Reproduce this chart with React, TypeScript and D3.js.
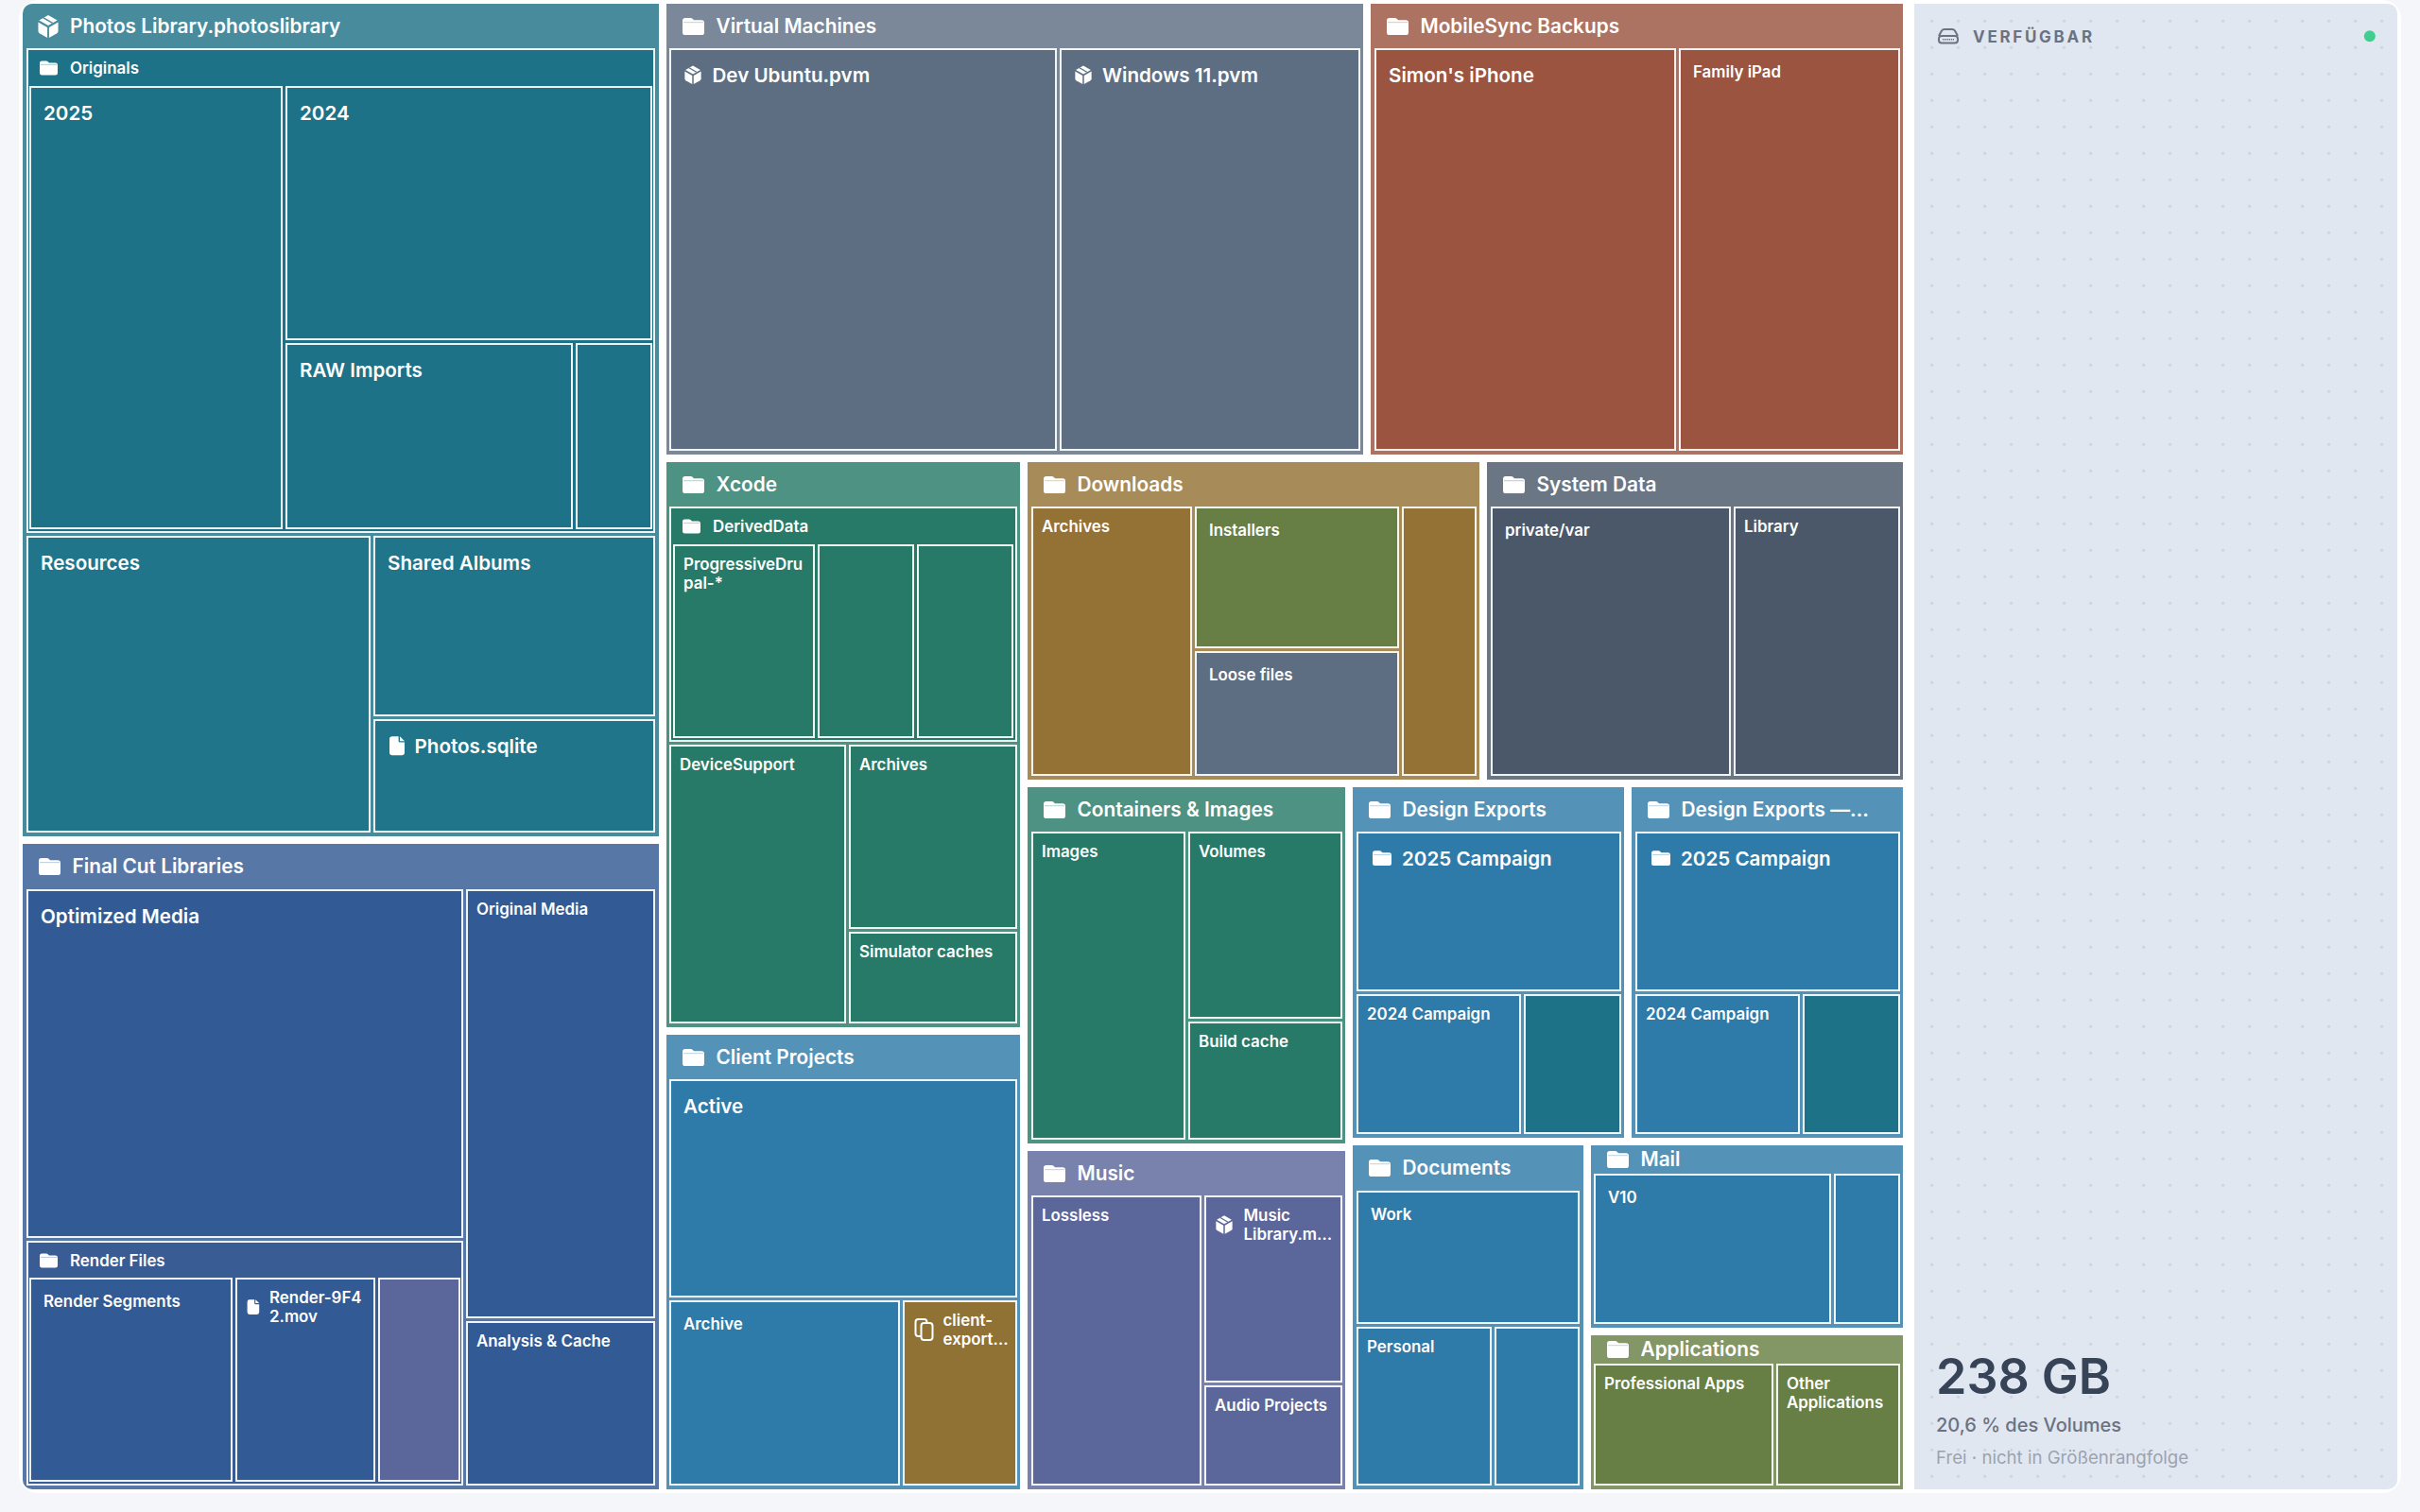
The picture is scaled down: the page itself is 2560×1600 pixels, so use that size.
import React from "react";
import * as d3 from "d3";

// ---------- data (GB) ----------
const originalsNames = ["2025", "2024", "RAW Imports", ""];
const originalsValues = [44.68, 37.08, 21.47, 5.84];
const photosNames = ["Resources", "Shared Albums", "Photos.sqlite"];
const photosValues = [36.74, 18.43, 11.66];
const finalCutNames = ["Optimized Media", "Original Media", "Analysis & Cache"];
const finalCutValues = [55.82, 29.98, 11.57];
const renderNames = ["Render Segments", "Render-9F42.mov", ""];
const renderValues = [18.7, 13.05, 7.68];
const vmNames = ["Dev Ubuntu.pvm", "Windows 11.pvm"];
const vmValues = [59.09, 45.91];
const mobileNames = ["Simon's iPhone", "Family iPad"];
const mobileValues = [46.43, 33.97];
const derivedNames = ["ProgressiveDrupal-*", "", " "];
const derivedValues = [12.96, 8.88, 8.94];
const xcodeNames = ["DeviceSupport", "Archives", "Simulator caches"];
const xcodeValues = [18.73, 11.82, 5.97];
const clientNames = ["Active", "Archive", "client-export…"];
const clientValues = [29.31, 16.62, 8.37];
const downloadsNames = ["Archives", "Installers", "Loose files", ""];
const downloadsValues = [17.82, 11.92, 10.5, 8.36];
const systemNames = ["private/var", "Library"];
const systemValues = [26.48, 18.32];
const containersNames = ["Images", "Volumes", "Build cache"];
const containersValues = [19.27, 11.75, 7.48];
const musicNames = ["Lossless", "Music Library.m…", "Audio Projects"];
const musicValues = [20.21, 10.62, 5.77];
const designNames = ["2025 Campaign", "2024 Campaign", ""];
const designValues = [17.3, 9.54, 5.71];
const design2Values = [17.3, 9.54, 5.71];
const documentsNames = ["Work", "Personal", ""];
const documentsValues = [12.44, 9.04, 5.72];
const mailNames = ["V10", ""];
const mailValues = [15.32, 4.38];
const appsNames = ["Professional Apps", "Other Applications"];
const appsValues = [9.9, 6.9];

const freeLabel = "238 GB";
const freeShare = "20,6 % des Volumes";
const freeNote = "Frei · nicht in Größenrangfolge";
const freeTitle = "VERFÜGBAR";

// ---------- tree ----------
type N = any;
const leaves = (group: string, names: string[], values: number[]): N[] =>
  names.map((name, i) => ({ name, value: values[i], group }));
const split = (dir: string, ...children: N[]): N => ({ dir, children });
const folder = (name: string, dir: string, ...children: N[]): N => ({ name, dir, children, isFolder: true });

const O = leaves("Originals", originalsNames, originalsValues);
const P = leaves("Photos Library.photoslibrary", photosNames, photosValues);
const F = leaves("Final Cut Libraries", finalCutNames, finalCutValues);
const R = leaves("Render Files", renderNames, renderValues);
const DD = leaves("DerivedData", derivedNames, derivedValues);
const X = leaves("Xcode", xcodeNames, xcodeValues);
const C = leaves("Client Projects", clientNames, clientValues);
const D = leaves("Downloads", downloadsNames, downloadsValues);
const CI = leaves("Containers & Images", containersNames, containersValues);
const M = leaves("Music", musicNames, musicValues);
const DE = leaves("Design Exports", designNames, designValues);
const DE2 = leaves("Design Exports —…", designNames, design2Values);
const DOC = leaves("Documents", documentsNames, documentsValues);

const photos = folder("Photos Library.photoslibrary", "slice",
  folder("Originals", "dice", O[0], split("slice", O[1], split("dice", O[2], O[3]))),
  split("dice", P[0], split("slice", P[1], P[2])));
const finalCut = folder("Final Cut Libraries", "dice",
  split("slice", F[0], folder("Render Files", "dice", ...R)),
  split("slice", F[1], F[2]));
const xcode = folder("Xcode", "slice",
  folder("DerivedData", "dice", ...DD),
  split("dice", X[0], split("slice", X[1], X[2])));
const client = folder("Client Projects", "slice", C[0], split("dice", C[1], C[2]));
const downloads = folder("Downloads", "dice", D[0], split("dice", split("slice", D[1], D[2]), D[3]));
const containers = folder("Containers & Images", "dice", CI[0], split("slice", CI[1], CI[2]));
const music = folder("Music", "dice", M[0], split("slice", M[1], M[2]));
const design = folder("Design Exports", "slice", DE[0], split("dice", DE[1], DE[2]));
const design2 = folder("Design Exports —…", "slice", DE2[0], split("dice", DE2[1], DE2[2]));
const documents = folder("Documents", "slice", DOC[0], split("dice", DOC[1], DOC[2]));

const tree = split("dice",
  split("slice", photos, finalCut),
  split("slice",
    split("dice",
      folder("Virtual Machines", "dice", ...leaves("Virtual Machines", vmNames, vmValues)),
      folder("MobileSync Backups", "dice", ...leaves("MobileSync Backups", mobileNames, mobileValues))),
    split("dice",
      split("slice", xcode, client),
      split("slice",
        split("dice", downloads, folder("System Data", "dice", ...leaves("System Data", systemNames, systemValues))),
        split("dice",
          split("slice", containers, music),
          split("slice",
            split("dice", design, design2),
            split("dice", documents,
              split("slice",
                folder("Mail", "dice", ...leaves("Mail", mailNames, mailValues)),
                folder("Applications", "dice", ...leaves("Applications", appsNames, appsValues))))))))));

// ---------- styles ----------
const TEAL = "#1e7288", NAVY = "#325a94", SLATE = "#5d6e82", RUST = "#9a5440", GREEN = "#277a68",
  GOLD = "#947134", DARK = "#4b5869", BLUE = "#2e7aa9", PURPLE = "#5b669b", OLIVE = "#677f45";
const baseFill: Record<string, string> = {
  "Photos Library.photoslibrary": TEAL, "Final Cut Libraries": NAVY, "Virtual Machines": SLATE,
  "MobileSync Backups": RUST, Xcode: GREEN, Downloads: GOLD, "System Data": DARK,
  "Containers & Images": GREEN, "Design Exports": BLUE, "Design Exports —…": BLUE,
  "Client Projects": BLUE, Music: PURPLE, Documents: BLUE, Mail: BLUE, Applications: OLIVE,
};
const fillOverride: Record<string, string> = {
  "Downloads/Installers": OLIVE, "Downloads/Loose files": SLATE, "Render Files/": PURPLE,
  "Design Exports/": TEAL, "Design Exports —…/": TEAL, "Client Projects/client-export…": "#907235",
  "Photos Library.photoslibrary/Resources": "#20758a", "Photos Library.photoslibrary/Shared Albums": "#20758a",
  "Photos Library.photoslibrary/Photos.sqlite": "#20758a",
};
const labelClass: Record<string, string> = {
  "Originals/2025": "lg", "Originals/2024": "lg", "Originals/RAW Imports": "lg",
  "Photos Library.photoslibrary/Resources": "lg", "Photos Library.photoslibrary/Shared Albums": "lg",
  "Photos Library.photoslibrary/Photos.sqlite": "lg", "Final Cut Libraries/Optimized Media": "lg",
  "Render Files/Render Segments": "sm", "Virtual Machines/Dev Ubuntu.pvm": "lg", "Virtual Machines/Windows 11.pvm": "lg",
  "MobileSync Backups/Simon's iPhone": "lg", "MobileSync Backups/Family iPad": "sm",
  "Downloads/Installers": "sm", "Downloads/Loose files": "sm", "System Data/private/var": "sm",
  "Client Projects/Active": "lg", "Client Projects/Archive": "sm", "Design Exports/2025 Campaign": "lg",
  "Design Exports —…/2025 Campaign": "lg", "Documents/Work": "sm", "Mail/V10": "sm",
};
const classes: Record<string, { fs: number; dx: number; cy: number }> = {
  lg: { fs: 20.6, dx: 15, cy: 28.2 },
  sm: { fs: 16.9, dx: 15, cy: 25 },
  xs: { fs: 16.9, dx: 11, cy: 21 },
};
const leafIcons: Record<string, { icon: string; ix: number; w: number; tx: number }> = {
  "Photos Library.photoslibrary/Photos.sqlite": { icon: "file", ix: 17, w: 16, tx: 43.5 },
  "Render Files/Render-9F42.mov": { icon: "file", ix: 12.6, w: 12.6, tx: 36 },
  "Virtual Machines/Dev Ubuntu.pvm": { icon: "cube", ix: 16, w: 18, tx: 45.5 },
  "Virtual Machines/Windows 11.pvm": { icon: "cube", ix: 16, w: 18, tx: 45 },
  "Music/Music Library.m…": { icon: "cube", ix: 12, w: 18, tx: 41.5 },
  "Client Projects/client-export…": { icon: "copy", ix: 12.5, w: 20, tx: 42.5 },
  "Design Exports/2025 Campaign": { icon: "folder", ix: 17, w: 20, tx: 48 },
  "Design Exports —…/2025 Campaign": { icon: "folder", ix: 17, w: 20, tx: 48 },
};
const wrapped: Record<string, string[]> = {
  "ProgressiveDrupal-*": ["ProgressiveDru", "pal-*"],
  "Render-9F42.mov": ["Render-9F4", "2.mov"],
  "Music Library.m…": ["Music", "Library.m…"],
  "client-export…": ["client-", "export…"],
  "Other Applications": ["Other", "Applications"],
};
const compactHeaders = ["Mail", "Applications"];
const FONT = "Inter, 'Noto Sans', sans-serif";
const LEFT = 24, TOP = 4, WIDTH = 1989, HEIGHT = 1572;

const mix = (c: string) => d3.interpolateRgb(c, "#ffffff")(0.18);

function Icon({ kind, x, cy, w, bg }: { kind: string; x: number; cy: number; w: number; bg: string }) {
  const dims: Record<string, [number, number]> = { folder: [24, 19], cube: [24, 26], file: [16, 20], copy: [20, 24] };
  const [vw, vh] = dims[kind];
  const s = w / vw;
  const t = `translate(${x},${cy - (vh * s) / 2}) scale(${s})`;
  if (kind === "folder")
    return (
      <g transform={t}>
        <path fill="#fff" d="M3 0H9Q10 0 10.7.7L12.5 2.5H21Q24 2.5 24 5.5V16Q24 19 21 19H3Q0 19 0 16V3Q0 0 3 0Z" />
        <path d="M1 5H23" stroke={bg} strokeWidth={0.7} opacity={0.6} />
      </g>
    );
  if (kind === "cube")
    return (
      <g transform={t} fill="#fff">
        <path d="M12 0L22.5 6L12 12L1.5 6Z" />
        <path d="M6.5 3L17 9" stroke={bg} strokeWidth={1.6} />
        <path d="M.5 8L11 14V26L2 21Q.5 20 .5 18.5Z" />
        <path d="M23.5 8L13 14V26L22 21Q23.5 20 23.5 18.5Z" />
      </g>
    );
  if (kind === "file")
    return (
      <g transform={t} fill="#fff">
        <path d="M3 0H9.6V5Q9.6 6.4 11 6.4H16V17Q16 20 13 20H3Q0 20 0 17V3Q0 0 3 0Z" />
        <path d="M11 0L16 5H11Z" />
      </g>
    );
  return (
    <g transform={t} fill="none" stroke="#fff" strokeWidth={2}>
      <rect x={1} y={1} width={12} height={18} rx={3} />
      <rect x={7} y={5} width={12} height={18} rx={3} fill={bg} />
    </g>
  );
}

export default function App() {
  const root = d3.hierarchy(tree).sum((d: N) => (d.children ? 0 : d.value));
  const inFolder = (n: N) => n.ancestors().some((a: N) => a.data.isFolder);
  d3.treemap()
    .size([WIDTH, HEIGHT])
    .tile((node: N, x0: number, y0: number, x1: number, y1: number) =>
      (node.data.dir === "slice" ? d3.treemapSlice : d3.treemapDice)(node, x0, y0, x1, y1))
    .paddingInner((n: N) => (inFolder(n) ? 3 : 8))
    .paddingTop((n: N) => {
      if (!n.data.isFolder) return 0;
      if (compactHeaders.includes(n.data.name)) return 29.5;
      if (n.ancestors().slice(1).some((a: N) => a.data.isFolder)) return 39.8;
      return n.data.name === "Final Cut Libraries" ? 48.2 : 47.3;
    })
    .paddingLeft((n: N) => (n.data.isFolder ? 3.5 : 0))
    .paddingRight((n: N) => (n.data.isFolder ? 3.5 : 0))
    .paddingBottom((n: N) => (n.data.isFolder ? 4 : 0))(root as any);

  const topName = (n: N) => {
    const fs = n.ancestors().filter((a: N) => a.data.isFolder);
    return fs.length ? fs[fs.length - 1].data.name : "";
  };
  const nodes = root.descendants().filter((n: N) => n.data.isFolder || !n.children);

  return (
    <svg width={2560} height={1600} style={{ position: "fixed", left: 0, top: 0 }} fontFamily={FONT}>
      <defs>
        <clipPath id="frame"><rect x={24} y={4} width={2512} height={1572} rx={10} /></clipPath>
        <pattern id="dots" x={2043.6 - 14} y={22.3 - 14} width={28} height={28} patternUnits="userSpaceOnUse">
          <circle cx={14} cy={14} r={1.5} fill="#64748b" opacity={0.2} />
        </pattern>
      </defs>
      <rect width={2560} height={1600} fill="#f4f6fa" />
      <rect x={20} y={0} width={2520} height={1580} rx={20} fill="#fff" />
      <g clipPath="url(#frame)">
        <g transform={`translate(${LEFT},${TOP})`}>
          {nodes.map((n: N, i: number) => {
            const x0 = Math.round(n.x0), y0 = Math.round(n.y0), x1 = Math.round(n.x1), y1 = Math.round(n.y1);
            const base = baseFill[topName(n)];
            const isTop = n.data.isFolder && !n.ancestors().slice(1).some((a: N) => a.data.isFolder);
            if (isTop) return <rect key={i} x={x0} y={y0} width={x1 - x0} height={y1 - y0} fill={mix(base)} />;
            const key = `${n.data.group}/${n.data.name}`;
            return (
              <rect key={i} x={x0 + 1} y={y0 + 1} width={x1 - x0 - 2} height={y1 - y0 - 2}
                fill={fillOverride[key] || (n.data.name === "Render Files" ? "#3a5c94" : base)}
                stroke="#fff" strokeOpacity={0.92} strokeWidth={2} />
            );
          })}
          {nodes.map((n: N, i: number) => {
            const x0 = Math.round(n.x0), y0 = Math.round(n.y0);
            const base = baseFill[topName(n)];
            if (n.data.isFolder) {
              const nested = n.ancestors().slice(1).some((a: N) => a.data.isFolder);
              const compact = compactHeaders.includes(n.data.name);
              const cy = nested ? 21 : compact ? 15 : 24;
              const fs = nested ? 16.9 : 20.8;
              const cube = n.data.name === "Photos Library.photoslibrary";
              return (
                <g key={i}>
                  <Icon kind={cube ? "cube" : "folder"} x={x0 + (nested ? 14 : cube ? 16 : 17)} cy={y0 + cy}
                    w={nested ? 19 : cube ? 22 : 23} bg={nested ? base : mix(base)} />
                  <text x={x0 + (nested ? 46 : cube ? 50 : 52.5)} y={y0 + cy + fs * 0.36} fontSize={fs} fontWeight={600} fill="#fff">
                    {n.data.name}
                  </text>
                </g>
              );
            }
            if (!n.data.name.trim()) return null;
            const key = `${n.data.group}/${n.data.name}`;
            const c = classes[labelClass[key] || "xs"];
            const ic = leafIcons[key];
            const lines = wrapped[n.data.name] || [n.data.name];
            const tx = x0 + (ic ? ic.tx : c.dx);
            const fill = fillOverride[key] || base;
            return (
              <g key={i}>
                {ic && (
                  <Icon kind={ic.icon} x={x0 + ic.ix} w={ic.w} bg={fill}
                    cy={y0 + c.cy + (lines.length - 1) * 10} />
                )}
                <text fontSize={c.fs} fontWeight={600} fill="#fff">
                  {lines.map((l: string, j: number) => (
                    <tspan key={j} x={tx} y={y0 + c.cy + j * 20 + c.fs * 0.36}>{l}</tspan>
                  ))}
                </text>
              </g>
            );
          })}
        </g>
        <rect x={2025} y={4} width={511} height={1572} fill="#e1e7f1" />
        <rect x={2025} y={4} width={511} height={1572} fill="url(#dots)" />
      </g>
      <g fill="none" stroke="#6b7280" strokeWidth={2}>
        <path d="M2051 38L2054 32.5Q2055 31 2057 31H2065Q2067 31 2068 32.5L2071 38" />
        <rect x={2051} y={38} width={20} height={7.5} rx={3} />
      </g>
      <path d="M2055 41.7H2067" stroke="#6b7280" strokeWidth={1.5} strokeDasharray="1.4 0.8" />
      <text x={2087} y={44.5} fontSize={17} fontWeight={700} letterSpacing={2.7} fill="#6b7280">{freeTitle}</text>
      <circle cx={2506.8} cy={38.3} r={6} fill="#3ecf8e" />
      <text x={2048} y={1475} fontSize={52} fontWeight={600} fill="#374357">{freeLabel}</text>
      <text x={2048} y={1515} fontSize={20} fontWeight={500} fill="#6b7280">{freeShare}</text>
      <text x={2048} y={1549} fontSize={18.65} fontWeight={400} fill="#9ca3af">{freeNote}</text>
    </svg>
  );
}
